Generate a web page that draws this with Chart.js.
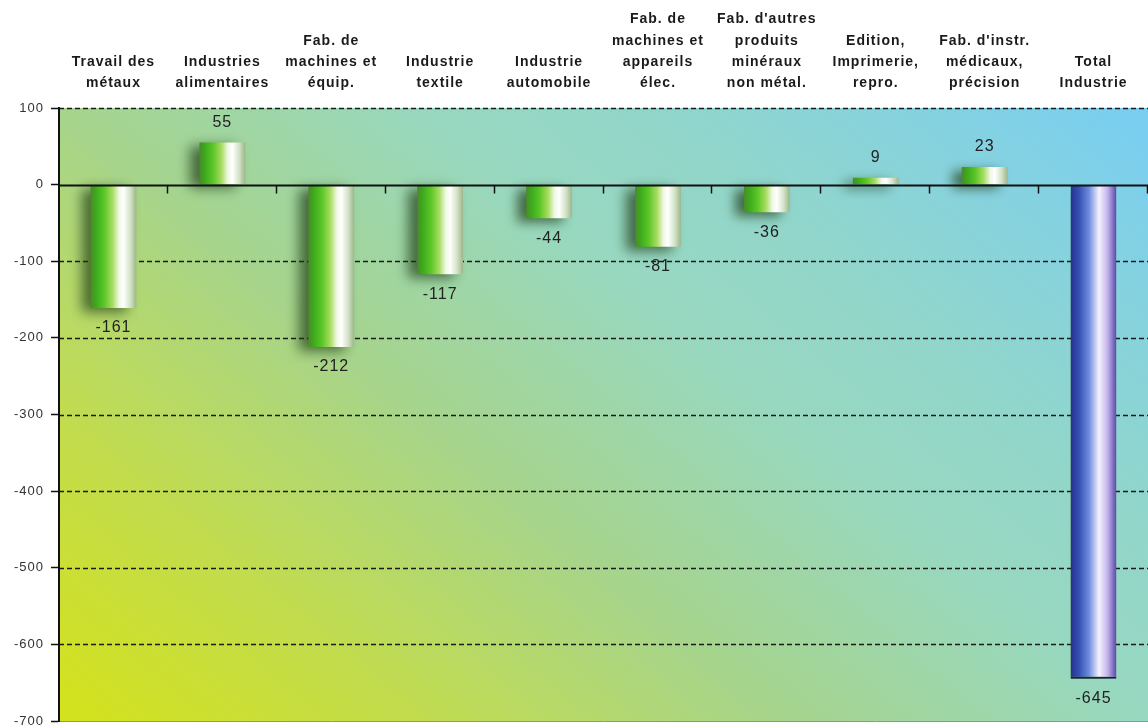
<!DOCTYPE html>
<html>
<head>
<meta charset="utf-8">
<script src="https://cdn.jsdelivr.net/npm/chart.js@4/dist/chart.umd.min.js"></script>
<style>
  html, body { margin: 0; padding: 0; background: #ffffff; }
  #wrap { width: 1148px; height: 727px; position: relative; }
</style>
</head>
<body>
<div id="wrap"><canvas id="c"></canvas></div>
<script>
// ---- data ----
const categories = [
  ['Travail des', 'métaux'],
  ['Industries', 'alimentaires'],
  ['Fab. de', 'machines et', 'équip.'],
  ['Industrie', 'textile'],
  ['Industrie', 'automobile'],
  ['Fab. de', 'machines et', 'appareils', 'élec.'],
  ["Fab. d'autres", 'produits', 'minéraux', 'non métal.'],
  ['Edition,', 'Imprimerie,', 'repro.'],
  ["Fab. d'instr.", 'médicaux,', 'précision'],
  ['Total', 'Industrie']
];
const values = [-161, 55, -212, -117, -44, -81, -36, 9, 23, -645];
const isTotal = [false, false, false, false, false, false, false, false, false, true];
const yMin = -700, yMax = 100, yStep = 100;

const FONT = '"Liberation Sans", Arial, sans-serif';
const BAR_PCT = 0.42;

function barGradient(ctx) {
  const chart = ctx.chart;
  if (!chart.chartArea || ctx.type !== 'data') return '#5cc628';
  const xs = chart.scales.x;
  const cx = xs.getPixelForValue(ctx.dataIndex);
  const w = xs.width / categories.length * BAR_PCT;
  const g = chart.ctx.createLinearGradient(cx - w / 2, 0, cx + w / 2, 0);
  if (isTotal[ctx.dataIndex]) {
    g.addColorStop(0, '#24338c');
    g.addColorStop(0.18, '#3550b4');
    g.addColorStop(0.4, '#6e8cdc');
    g.addColorStop(0.62, '#f6f2ff');
    g.addColorStop(0.8, '#c6b6ee');
    g.addColorStop(1, '#5848a6');
  } else {
    g.addColorStop(0, '#4c8a2a');
    g.addColorStop(0.12, '#3cab1c');
    g.addColorStop(0.3, '#5cc628');
    g.addColorStop(0.48, '#a8dc60');
    g.addColorStop(0.62, '#eef8e2');
    g.addColorStop(0.72, '#ffffff');
    g.addColorStop(0.87, '#d2e2c6');
    g.addColorStop(1, '#9cb68a');
  }
  return g;
}

const decorPlugin = {
  id: 'decor',
  beforeDraw(chart) {
    const c = chart.ctx;
    try { c.letterSpacing = '1px'; } catch (e) {}
    const a = chart.chartArea;
    const W = a.right - a.left, H = a.bottom - a.top;
    // background: t = 0.6*x/W + 0.4*(1 - y/H)
    const gx = 0.6 / W, gy = 0.4 / H;
    const n2 = gx * gx + gy * gy;
    c.save();
    const g = c.createLinearGradient(a.left, a.bottom, a.left + gx / n2, a.bottom - gy / n2);
    g.addColorStop(0, '#d4e21a');
    g.addColorStop(0.2, '#c2dc4e');
    g.addColorStop(0.4, '#a6d48c');
    g.addColorStop(0.6, '#98d8c0');
    g.addColorStop(0.72, '#92d6ca');
    g.addColorStop(0.86, '#86d2de');
    g.addColorStop(1, '#78cef2');
    c.fillStyle = g;
    c.fillRect(a.left, a.top, W, H);
    // gridlines (behind bars)
    const ys = chart.scales.y;
    ys.ticks.forEach(t => {
      if (t.value === 0) return;
      const y = Math.round(ys.getPixelForValue(t.value)) + 0.5;
      c.beginPath();
      if (t.value === yMin) {
        c.setLineDash([]);
        c.strokeStyle = '#8a9a8a';
        c.lineWidth = 1;
      } else {
        c.setLineDash([5, 3]);
        c.strokeStyle = '#1a1a1a';
        c.lineWidth = 1.6;
      }
      c.moveTo(a.left, y);
      c.lineTo(a.right, y);
      c.stroke();
    });
    c.restore();
  },
  beforeDatasetDraw(chart) {
    const c = chart.ctx;
    c.save();
    c.shadowColor = 'rgba(30,60,20,0.7)';
    c.shadowBlur = 12;
    c.shadowOffsetX = -9;
    c.shadowOffsetY = 4;
  },
  afterDatasetDraw(chart) {
    chart.ctx.restore();
  },
  afterDatasetsDraw(chart) {
    const c = chart.ctx;
    const a = chart.chartArea;
    const xs = chart.scales.x, ys = chart.scales.y;
    const y0 = Math.round(ys.getPixelForValue(0)) + 0.5;
    c.save();
    // zero line
    c.setLineDash([]);
    c.strokeStyle = '#111111';
    c.lineWidth = 2;
    c.beginPath();
    c.moveTo(a.left, y0);
    c.lineTo(a.right, y0);
    c.stroke();
    // category tick marks on zero line
    const cw = xs.width / categories.length;
    c.lineWidth = 1.5;
    for (let i = 1; i <= categories.length; i++) {
      const x = Math.round(xs.left + i * cw) - 0.5;
      c.beginPath();
      c.moveTo(x, y0);
      c.lineTo(x, y0 + 8);
      c.stroke();
    }
    // value labels
    try { c.letterSpacing = '1px'; } catch (e) {}
    c.font = '16px ' + FONT;
    c.fillStyle = '#222222';
    c.textAlign = 'center';
    c.textBaseline = 'middle';
    const meta = chart.getDatasetMeta(0);
    meta.data.forEach((el, i) => {
      const v = values[i];
      const y = v >= 0 ? el.y - 20 : el.y + 20;
      c.fillText(String(v), el.x, y);
    });
    c.restore();
  }
};

new Chart(document.getElementById('c'), {
  type: 'bar',
  data: {
    labels: categories,
    datasets: [{
      data: values,
      backgroundColor: barGradient,
      borderColor: '#161640',
      borderWidth: (ctx) => isTotal[ctx.dataIndex] ? { top: 0, left: 0, right: 0, bottom: 2 } : 0,
      borderSkipped: false,
      barPercentage: BAR_PCT,
      categoryPercentage: 1.0
    }]
  },
  options: {
    responsive: true,
    maintainAspectRatio: false,
    animation: false,
    layout: { padding: { left: 0, right: 0, top: 0, bottom: 6 } },
    plugins: {
      legend: { display: false },
      tooltip: { enabled: false }
    },
    scales: {
      x: {
        position: 'top',
        afterFit(scale) { scale.height = 108; scale.paddingLeft = 0; scale.paddingRight = 0; },
        grid: { display: false, drawTicks: false },
        border: { display: false },
        ticks: {
          padding: 14,
          maxRotation: 0,
          autoSkip: false,
          color: '#1a1a1a',
          font: { family: FONT, size: 14, weight: 'bold', lineHeight: 1.52 }
        }
      },
      y: {
        min: yMin,
        max: yMax,
        afterFit(scale) { scale.width = 59; scale.paddingTop = 0; scale.paddingBottom = 0; },
        ticks: {
          stepSize: yStep,
          padding: 7,
          color: '#333333',
          font: { family: FONT, size: 13 }
        },
        grid: {
          display: true,
          drawOnChartArea: false,
          drawTicks: true,
          tickLength: 8,
          tickColor: '#111111',
          tickWidth: 1.5
        },
        border: { display: true, color: '#111111', width: 2 }
      }
    }
  },
  plugins: [decorPlugin]
});
</script>
</body>
</html>
